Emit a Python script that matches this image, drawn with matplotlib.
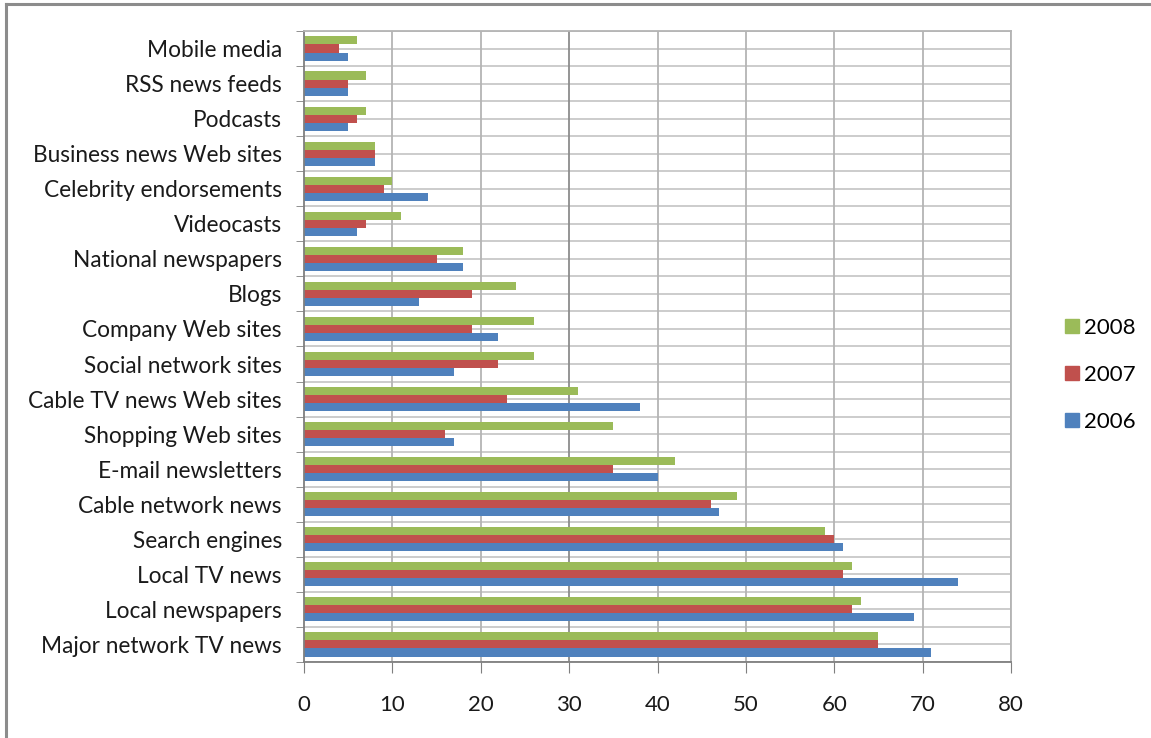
import matplotlib
matplotlib.use("Agg")
import matplotlib.pyplot as plt
import numpy as np
from matplotlib.lines import Line2D

plt.rcParams['font.family'] = ['Lato', 'DejaVu Sans']

# categories, bottom to top
categories = ["Major network TV news", "Local newspapers", "Local TV news",
              "Search engines", "Cable network news", "E-mail newsletters",
              "Shopping Web sites", "Cable TV news Web sites", "Social network sites",
              "Company Web sites", "Blogs", "National newspapers", "Videocasts",
              "Celebrity endorsements", "Business news Web sites", "Podcasts",
              "RSS news feeds", "Mobile media"]
v2006 = [71, 69, 74, 61, 47, 40, 17, 38, 17, 22, 13, 18, 6, 14, 8, 5, 5, 5]
v2007 = [65, 62, 61, 60, 46, 35, 16, 23, 22, 19, 19, 15, 7, 9, 8, 6, 5, 4]
v2008 = [65, 63, 62, 59, 49, 42, 35, 31, 26, 26, 24, 18, 11, 10, 8, 7, 7, 6]
years = ["2006", "2007", "2008"]
colors = ["#4F81BD", "#C0504D", "#9BBB59"]

fig = plt.figure(figsize=(11.51, 7.38), dpi=100)
ax = fig.add_axes([0.2641, 0.1030, 0.6143, 0.855])

y = np.arange(len(categories))
h = 0.23
grid_c = "#C4C4C4"

# horizontal grid at group boundaries and mid positions
for b in np.arange(-0.5, len(categories), 0.5):
    ax.axhline(b, color=grid_c, lw=1.2, zorder=0)
for xv in range(10, 81, 10):
    ax.axvline(xv, color="#8C8C8C" if xv == 30 else "#B4B4B4", lw=1.3, zorder=0)

ax.barh(y - h, v2006, height=h, color=colors[0], label=years[0], zorder=2)
ax.barh(y, v2007, height=h, color=colors[1], label=years[1], zorder=2)
ax.barh(y + h, v2008, height=h, color=colors[2], label=years[2], zorder=2)

ax.set_xlim(0, 80)
ax.set_ylim(-0.5, len(categories) - 0.5)
ax.set_xticks(range(0, 81, 10))
ax.set_yticks(y)
ax.set_yticklabels(categories)
ax.set_yticks(np.arange(-0.5, len(categories), 1), minor=True)
ax.tick_params(axis='y', which='major', length=0, pad=16, labelsize=16.3, colors="#1a1a1a")
ax.tick_params(axis='y', which='minor', length=6, color="#7F7F7F", direction='out')
ax.tick_params(axis='x', length=8, color="#7F7F7F", direction='out', pad=16,
               labelsize=16, labelcolor="#1a1a1a")

for s in ax.spines.values():
    s.set_color("#B4B4B4")
    s.set_linewidth(1.3)
ax.spines['left'].set_color("#7F7F7F")
ax.spines['bottom'].set_color("#7F7F7F")

handles = [Line2D([0], [0], marker='s', ls='', markersize=10, color=colors[i]) for i in (2, 1, 0)]
fig.legend(handles, [years[2], years[1], years[0]], loc='center left',
           bbox_to_anchor=(0.906, 0.492), frameon=False, fontsize=16,
           handletextpad=0.15, labelspacing=1.2, handlelength=0.8)

# outer frame lines (left and top)
fig.add_artist(Line2D([0.0055, 0.0055], [0, 0.995], color="#8C8C8C", lw=2.2))
fig.add_artist(Line2D([0.0055, 1.0], [0.995, 0.995], color="#8C8C8C", lw=2.2))

fig.savefig("out.png", dpi=100)
